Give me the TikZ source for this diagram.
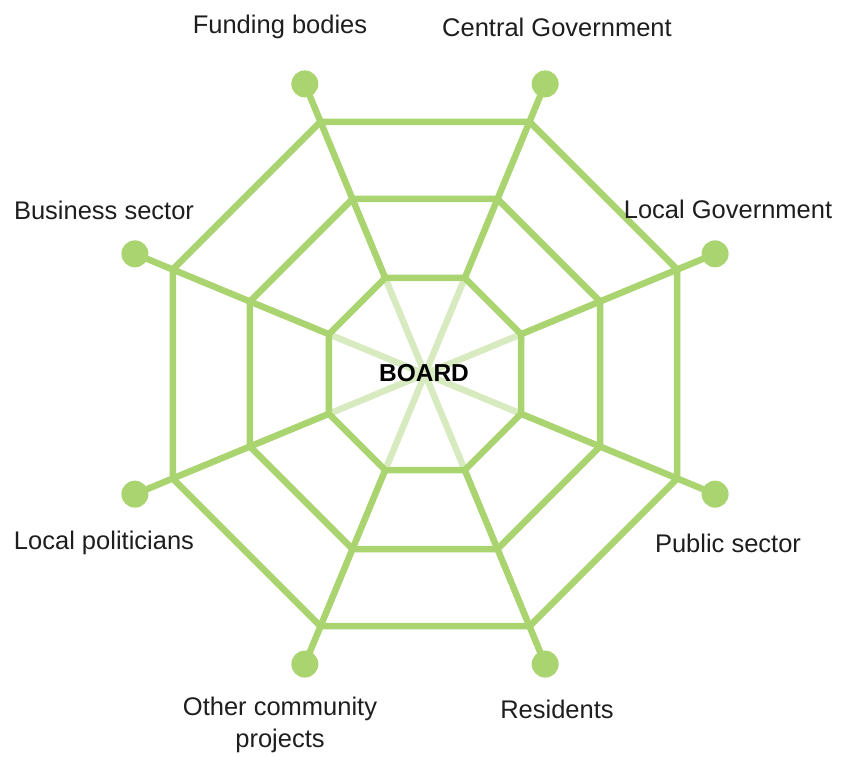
\documentclass[tikz,border=0pt]{standalone}
\usepackage{fontspec}
\setmainfont{Liberation Sans}
\definecolor{gr}{HTML}{A9D46F}
\definecolor{lgr}{HTML}{D8EBC0}
\definecolor{txt}{HTML}{1E1E1E}
\begin{document}
\begin{tikzpicture}[x=1pt,y=1pt,
  web/.style={draw=gr,line width=6.5pt},
  lspoke/.style={draw=lgr,line width=6.5pt},
  dot/.style={circle,fill=gr,inner sep=0pt,minimum size=27pt},
  lab/.style={text=txt,font=\fontsize{25.5}{32}\selectfont,inner sep=0pt,align=center},
  board/.style={text=black,font=\fontsize{24.5}{28}\selectfont\bfseries,inner sep=0pt}]
\useasboundingbox (0,0) rectangle (846,756);
\coordinate (c) at (425,382);
\foreach \k/\a in {1/67.5,2/22.5,3/-22.5,4/-67.5,5/-112.5,6/-157.5,7/157.5,8/112.5}{
  \path (c) ++(\a:104) coordinate (i\k);
  \path (c) ++(\a:189.5) coordinate (m\k);
  \path (c) ++(\a:273) coordinate (o\k);
  \path (c) ++(\a:314) node[dot] (d\k) {};
}
\foreach \k in {1,...,8}{\draw[lspoke] (c) -- (i\k);}
\foreach \k in {1,...,8}{\draw[web,line cap=round] (i\k) -- (d\k.center);}
\draw[web] (i1) -- (i2) -- (i3) -- (i4) -- (i5) -- (i6) -- (i7) -- (i8) -- cycle;
\draw[web] (m1) -- (m2) -- (m3) -- (m4) -- (m5) -- (m6) -- (m7) -- (m8) -- cycle;
\draw[web] (o1) -- (o2) -- (o3) -- (o4) -- (o5) -- (o6) -- (o7) -- (o8) -- cycle;
\node[board] (b) at (424,383) {BOARD};
\node[lab] (l1) at (557,729) {Central Government};
\node[lab] (l8) at (280,729) {Funding bodies};
\node[lab] (l2) at (728,547) {Local Government};
\node[lab] (l7) at (104,546) {Business sector};
\node[lab] (l3) at (728,213) {Public sector};
\node[lab] (l6) at (104,213) {Local politicians};
\node[lab] (l4) at (557,47) {Residents};
\node[lab] (l5) at (280,31) {Other community\\projects};
\end{tikzpicture}
\end{document}
